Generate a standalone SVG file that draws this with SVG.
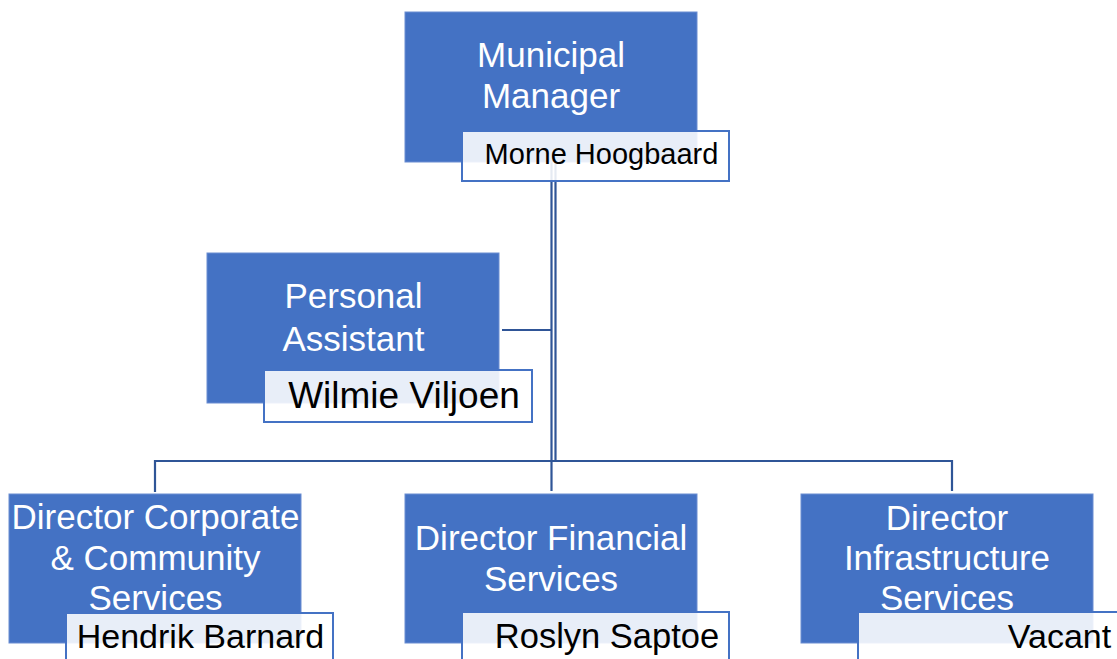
<svg xmlns="http://www.w3.org/2000/svg" width="1117" height="659" viewBox="0 0 1117 659">
<style>
.box{fill:#4472C4;stroke:#6A8DD2;stroke-width:1}
.name{fill:#FFFFFF;fill-opacity:0.88;stroke:#4472C4;stroke-width:2}
.t{font-family:"Liberation Sans",Arial,sans-serif;font-size:35px;fill:#FFFFFF;text-anchor:middle}
.n{font-family:"Liberation Sans",Arial,sans-serif;fill:#000000;text-anchor:middle}
.c{fill:none;stroke:#2F5597;stroke-width:2.2}
</style>
<rect width="1117" height="659" fill="#FFFFFF"/>
<g id="connectors">
<path class="c" d="M551.5 162 V491"/>
<path class="c" d="M555.5 162 V461"/>
<path class="c" d="M502 330 H551.5"/>
<path class="c" d="M155 492 V461 H952 V491"/>
</g>
<g id="node-municipal-manager">
<rect class="box" x="405" y="12" width="292" height="150"/>
<text class="t" x="551" y="67">Municipal</text>
<text class="t" x="551" y="108">Manager</text>
<rect class="name" x="462" y="131" width="267" height="50"/>
<text class="n" x="601.5" y="164" font-size="29">Morne Hoogbaard</text>
</g>
<g id="node-personal-assistant">
<rect class="box" x="207" y="253" width="292" height="150"/>
<text class="t" x="353.5" y="308">Personal</text>
<text class="t" x="353.5" y="351">Assistant</text>
<rect class="name" x="264" y="370" width="268" height="52"/>
<text class="n" x="404" y="408" font-size="37">Wilmie Viljoen</text>
</g>
<g id="node-director-corporate">
<rect class="box" x="9" y="494" width="292" height="149"/>
<text class="t" x="155.5" y="529" font-size="34.5">Director Corporate</text>
<text class="t" x="155.5" y="570">&amp; Community</text>
<text class="t" x="155.5" y="610">Services</text>
<rect class="name" x="66" y="613" width="267" height="60"/>
<text class="n" x="200.5" y="648" font-size="34">Hendrik Barnard</text>
</g>
<g id="node-director-financial">
<rect class="box" x="405" y="494" width="292" height="149"/>
<text class="t" x="551" y="550">Director Financial</text>
<text class="t" x="551" y="591">Services</text>
<rect class="name" x="462" y="612" width="267" height="60"/>
<text class="n" x="607" y="648" font-size="34.5">Roslyn Saptoe</text>
</g>
<g id="node-director-infrastructure">
<rect class="box" x="801" y="494" width="292" height="149"/>
<text class="t" x="947" y="530">Director</text>
<text class="t" x="947" y="570">Infrastructure</text>
<text class="t" x="947" y="610">Services</text>
<rect class="name" x="858" y="612" width="280" height="60"/>
<text class="n" x="1059.5" y="648" font-size="34">Vacant</text>
</g>
</svg>
